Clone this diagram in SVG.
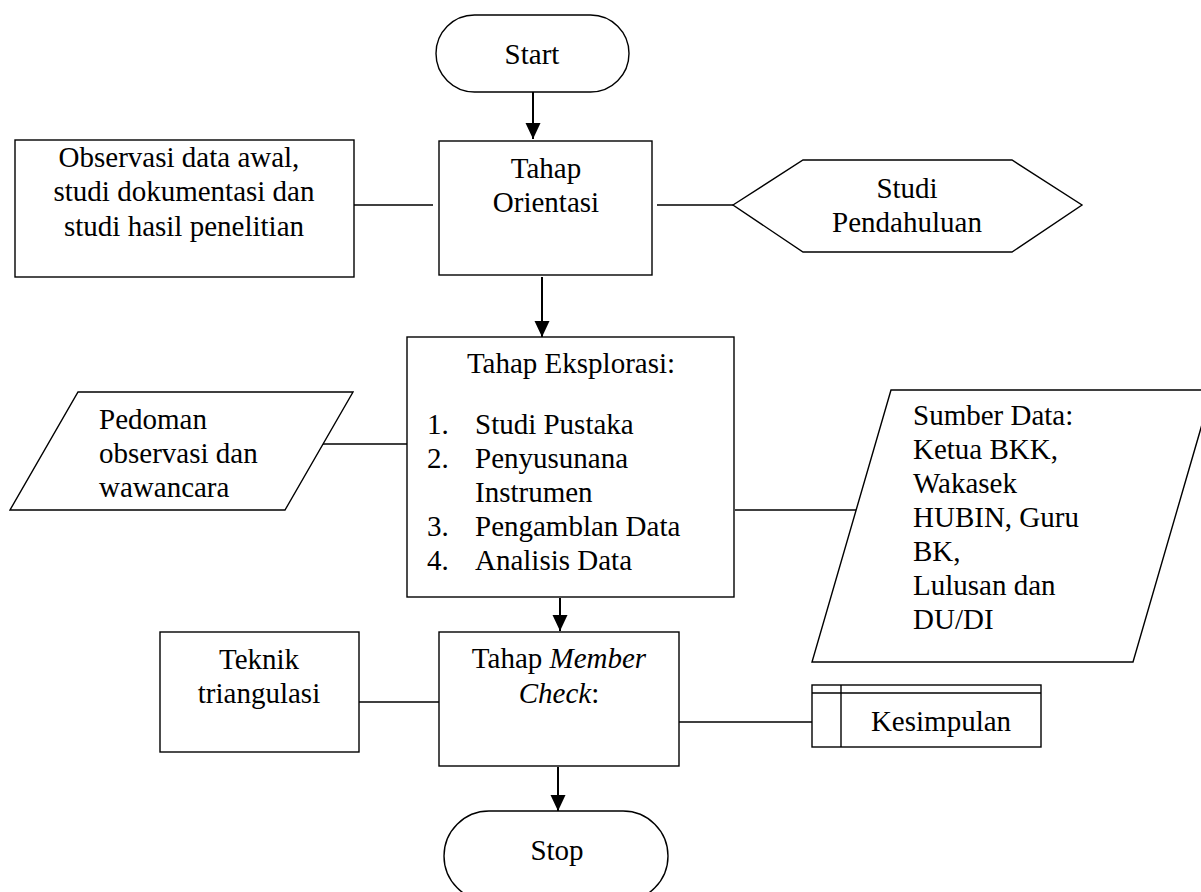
<svg xmlns="http://www.w3.org/2000/svg" width="1201" height="892" viewBox="0 0 1201 892">
<style>
.s{fill:#fff;stroke:#000;stroke-width:1.4}
.t{font-family:"Liberation Serif","Times New Roman",serif;font-size:29px;fill:#000}
.m{text-anchor:middle}
.c{stroke:#000;stroke-width:1.6;fill:none}
.a{stroke:#000;stroke-width:2;fill:none;marker-end:url(#ah)}
</style>
<defs>
<marker id="ah" markerUnits="userSpaceOnUse" markerWidth="16" markerHeight="16" refX="16" refY="7.5" orient="auto">
<path d="M0,0 L16,7.5 L0,15 z" fill="#000"/>
</marker>
</defs>
<rect width="1201" height="892" fill="#fff"/>
<g id="connectors">
<line class="a" x1="533" y1="92" x2="533" y2="139"/>
<line class="a" x1="542" y1="277" x2="542" y2="337"/>
<line class="a" x1="560" y1="598" x2="560" y2="631"/>
<line class="a" x1="558" y1="767" x2="558" y2="811"/>
<line class="c" x1="354" y1="205" x2="433" y2="205"/>
<line class="c" x1="657" y1="205" x2="733" y2="205"/>
<line class="c" x1="323" y1="444" x2="407" y2="444"/>
<line class="c" x1="735" y1="510" x2="856" y2="510"/>
<line class="c" x1="359" y1="702" x2="439" y2="702"/>
<line class="c" x1="679" y1="722" x2="812" y2="722"/>
</g>
<g id="start">
<rect class="s" x="436" y="15" width="193" height="77" rx="38.5" ry="38.5"/>
<text class="t m" x="532" y="64">Start</text>
</g>
<g id="observasi">
<rect class="s" x="15" y="140" width="339" height="137"/>
<text class="t m" x="179" y="167">Observasi data awal,</text>
<text class="t m" x="184" y="201">studi dokumentasi dan</text>
<text class="t m" x="184" y="236">studi hasil penelitian</text>
</g>
<g id="orientasi">
<rect class="s" x="439" y="141" width="213" height="134"/>
<text class="t m" x="546" y="178">Tahap</text>
<text class="t m" x="546" y="212">Orientasi</text>
</g>
<g id="pendahuluan">
<polygon class="s" points="733,205 803,160 1012,160 1082,205 1012,252 803,252"/>
<text class="t m" x="907" y="198">Studi</text>
<text class="t m" x="907" y="232">Pendahuluan</text>
</g>
<g id="eksplorasi">
<rect class="s" x="407" y="337" width="327" height="260"/>
<text class="t m" x="571" y="373">Tahap Eksplorasi:</text>
<text class="t" x="427" y="434">1.</text><text class="t" x="475" y="434">Studi Pustaka</text>
<text class="t" x="427" y="468">2.</text><text class="t" x="475" y="468">Penyusunana</text>
<text class="t" x="475" y="502">Instrumen</text>
<text class="t" x="427" y="536">3.</text><text class="t" x="475" y="536">Pengamblan Data</text>
<text class="t" x="427" y="570">4.</text><text class="t" x="475" y="570">Analisis Data</text>
</g>
<g id="pedoman">
<polygon class="s" points="78,392 353,392 285,510 10,510"/>
<text class="t" x="99" y="429">Pedoman</text>
<text class="t" x="99" y="463">observasi dan</text>
<text class="t" x="99" y="497">wawancara</text>
</g>
<g id="sumber">
<polygon class="s" points="891,390 1212,390 1133,662 812,662"/>
<text class="t" x="913" y="425">Sumber Data:</text>
<text class="t" x="913" y="459">Ketua BKK,</text>
<text class="t" x="913" y="493">Wakasek</text>
<text class="t" x="913" y="527">HUBIN, Guru</text>
<text class="t" x="913" y="561">BK,</text>
<text class="t" x="913" y="595">Lulusan dan</text>
<text class="t" x="913" y="629">DU/DI</text>
</g>
<g id="teknik">
<rect class="s" x="160" y="632" width="199" height="120"/>
<text class="t m" x="259" y="669">Teknik</text>
<text class="t m" x="259" y="703">triangulasi</text>
</g>
<g id="membercheck">
<rect class="s" x="439" y="632" width="240" height="134"/>
<text class="t m" x="559" y="668">Tahap <tspan font-style="italic">Member</tspan></text>
<text class="t m" x="559" y="703"><tspan font-style="italic">Check</tspan>:</text>
</g>
<g id="kesimpulan">
<rect class="s" x="812" y="685" width="229" height="62"/>
<line class="c" x1="841" y1="685" x2="841" y2="747" style="stroke-width:1.4"/>
<line class="c" x1="812" y1="693" x2="1041" y2="693" style="stroke-width:1.4"/>
<text class="t m" x="941" y="731">Kesimpulan</text>
</g>
<g id="stop">
<rect class="s" x="444" y="811" width="224" height="90" rx="45" ry="45"/>
<text class="t m" x="557" y="860">Stop</text>
</g>
</svg>
